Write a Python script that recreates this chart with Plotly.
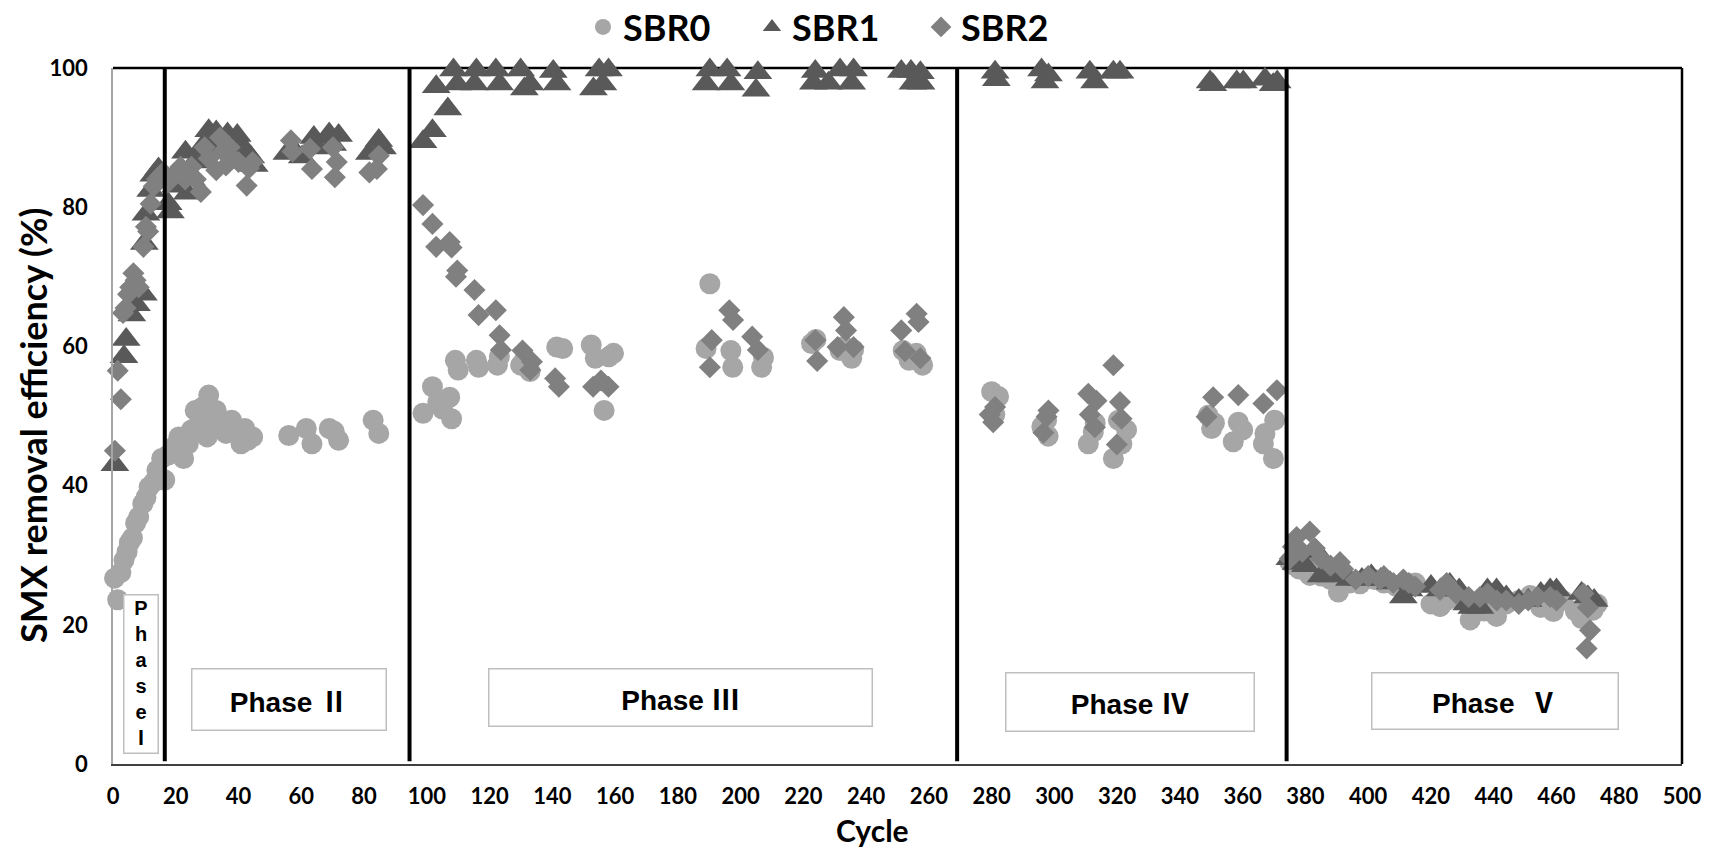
import plotly.graph_objects as go

# ---------------- data ----------------
sbr0_cycle = [0.5, 1.5, 2.5, 3.5, 4.5, 5.2, 6.2, 7.2, 8.2, 9.5, 10.5, 11.5, 13, 14, 15.5, 16.5,
              17.6, 19.5, 21, 22.5, 24, 25, 26.2, 27.5, 28.6, 30, 30.5, 31.5, 32.9, 34, 34.7, 36, 37.8, 39, 40.8, 42, 43, 44.5,
              56, 61.6, 63.4, 68.9, 70.5, 71.9, 82.9, 84.7,
              98.8, 101.8, 103.5, 105, 107.3, 107.9, 109.1, 110, 115.8, 116.5, 122.5, 123.1, 129.9, 131, 132.9, 141.4, 143.3,
              152.4, 153.7, 156.5, 158, 159.5, 189, 190.2, 196.9, 197.5, 206.7, 207.3, 222.6, 224, 231.7, 233, 235.4, 236,
              251.8, 253.7, 256, 258,
              280, 282.2, 281, 296, 297.5, 298, 310.8, 312.4, 313, 318.8, 320.4, 321.5, 323, 349, 350.1, 351, 357, 358.6, 360,
              366.6, 367.1, 369.8, 370.2,
              375, 376.1, 378, 381.4, 383, 385, 388, 390.5, 394, 397.4, 402, 405, 409, 412, 415, 420, 422.9, 425, 428, 432.5,
              435, 437, 440.9, 444, 448, 451.6, 455, 459, 462, 466, 468, 471.7, 473]
sbr0_value = [26.7, 23.6, 27.5, 29.3, 30.5, 31.8, 32.5, 34.6, 35.5, 37.4, 38.3, 39.8, 40.5, 42.2, 43.9, 40.8,
              44.4, 45.6, 47, 43.9, 46, 48, 50.8, 49, 51.3, 47, 53, 49.5, 50.8, 48.5, 48.9, 47.5, 49.4, 47.8, 46, 48.2, 46.5, 47,
              47.2, 48.2, 46, 48.2, 47.8, 46.5, 49.4, 47.5,
              50.4, 54.2, 52, 51, 52.7, 49.6, 58, 56.6, 58, 57, 57.3, 58.5, 57.3, 58, 56.4, 59.9, 59.7,
              60.2, 58.3, 50.8, 58.5, 59, 59.7, 69, 59.4, 57, 57, 58.4, 60.4, 61, 59.4, 60, 58.3, 59.5,
              59.4, 58, 59, 57.3,
              53.5, 52.8, 50.2, 48.5, 49.4, 47.1, 46, 47.7, 49, 43.9, 49.4, 46, 48, 50.1, 48.2, 49, 46.3, 49.1, 48,
              46, 47.5, 43.9, 49.4,
              29, 28.6, 28, 27.1, 29, 27, 26.5, 24.7, 26, 25.9, 26.5, 26, 25.5, 25.5, 26, 23, 22.6, 23.5, 24, 20.7,
              22, 22, 21.2, 23, 23.5, 24.2, 22.5, 21.9, 23.5, 22, 20.9, 22.1, 23]

sbr1_cycle = [0.6, 3.5, 4.2, 6, 7.5, 9.7, 10, 10.5, 12, 13, 14.5, 16,
              17.6, 18.3, 20, 22, 23.1, 23.7, 25, 26, 27.5, 29, 30.5, 31.5, 32.9, 34, 35, 36.5, 38, 39.6, 41, 42.5, 43.9, 45,
              55.4, 58, 60.3, 64, 65, 68.9, 70, 71.9, 81.7, 84.7, 85.9,
              98.8, 101.8, 103, 106.7, 108.5, 109.7, 115.2, 115.8, 122, 123.2, 129.9, 131.1, 132.9, 140.3, 141.5, 153.1,
              154.9, 156.1, 157.9, 189, 190.2, 195.7, 196.9, 204.9, 205.5, 223.2, 223.8, 228, 231.7, 235.4, 236, 251.2,
              254.3, 254.9, 257.3, 257.5,
              281.1, 281.5, 295.9, 297, 298.1, 311.3, 312.8, 318.8, 320.9, 349.6, 350.5, 358.1, 360.2, 367.1, 369.7, 371,
              375, 377, 380, 383.6, 385, 388, 391, 394, 398, 401, 404, 407, 411.2, 413, 420, 423, 426, 429, 431.4, 433,
              435.6, 438, 440.9, 444, 448, 451, 455, 458, 460, 468, 470, 472]
sbr1_value = [43, 58.5, 61, 64.5, 66, 67.5, 74.8, 79, 82.4, 84.6, 85.5, 84,
              80.5, 79.3, 83, 84.5, 87.9, 82, 84, 86.5, 88, 89, 91, 89.5, 90.8, 89, 88.5, 90.5, 89, 90.3, 88.5, 88, 87.2, 86,
              87.7, 88, 87.2, 90, 88.5, 90.5, 89, 90.3, 87.7, 89.6, 88.5,
              89.4, 91, 97.3, 94.1, 99.7, 97.7, 97.7, 99.7, 99.7, 97.7, 99.7, 97, 97.7, 99.5, 97.7, 97,
              99.7, 97.7, 99.7, 97.7, 99.7, 99.7, 97.7, 96.8, 99.3, 97.8, 99.5, 97.8, 99.7, 97.8, 99.7, 99.5,
              99.5, 97.8, 99.3, 97.8,
              99.4, 98.3, 99.7, 98, 99, 99.4, 98, 99.4, 99.4, 98, 97.6, 98, 98, 98.4, 97.6, 98,
              29.5, 28.8, 28.5, 30.5, 27, 27, 27.4, 26.5, 26.5, 27, 26.5, 26, 24, 25, 25.5, 25, 25.8, 25, 23, 22.5,
              22.5, 25, 25, 24, 23.5, 23.5, 24.5, 25, 25, 24.5, 24, 23.5]

sbr2_cycle = [0.6, 1.5, 2.5, 3.2, 4, 4.8, 5.5, 6.5, 7.2, 8.2, 9.7, 10.5, 11.2, 12, 13, 14, 15, 16,
              17.6, 19, 21.5, 23, 25, 26.4, 28, 29.2, 30.5, 32.9, 34.1, 35, 36, 37.2, 38.2, 40, 42.6, 43.3, 44.5,
              56.7, 57.2, 62.8, 63.4, 70.1, 70.7, 71.3, 81.7, 84.1, 84.7,
              98.8, 101.8, 103, 107.3, 107.9, 109.7, 109.3, 115.2, 116.5, 122, 123.2, 123.6, 130.5, 133.5, 133, 140.9,
              142.1, 153, 155.5, 157.9, 190.2, 190.8, 196.4, 197.6, 203.7, 205.5, 223.8, 224.4, 230.9, 232.9, 233.6, 236,
              251.2, 252.4, 256.1, 256.7, 257.3,
              279.4, 280.5, 281.1, 296.5, 297.5, 298.1, 310.8, 311.3, 312.9, 313.4, 318.8, 319.9, 320.9, 321.4, 348.5,
              350.6, 358.6, 366.6, 370.9,
              375, 376, 377.2, 379, 381.4, 383, 385, 388, 391, 392, 396, 400, 403.8, 405, 408, 411.2, 413, 415, 422.9,
              425, 428, 432, 435.6, 438, 441, 444, 448, 451, 454, 458, 460, 468.6, 470, 470.7, 469.6]
sbr2_value = [45, 56.5, 52.4, 64.8, 65.5, 67.5, 68.5, 70.5, 69.5, 68.5, 74.3, 77.2, 76.5, 80.5, 83, 84, 84.5, 85,
              83.6, 84.5, 85.8, 84, 85.8, 84, 82.2, 88.6, 87, 85.3, 90, 88, 86, 88.6, 87, 86.5, 83.1, 85.6, 86.5,
              89.6, 88, 88.4, 85.5, 88.6, 84.3, 86.5, 85, 85.5, 87.4,
              80.3, 77.6, 74.3, 75, 74.2, 70.9, 70, 68.1, 64.5, 65.2, 61.6, 59.5, 59.4, 57.8, 56.6, 55.4,
              54.2, 54.2, 55.1, 54.2, 57, 60.9, 65.2, 63.8, 61.4, 59.5, 60.9, 57.9, 59.9, 64.2, 62.3, 59.9,
              62.3, 59.3, 64.7, 63.5, 58.3,
              50.2, 49.1, 51.3, 47.6, 49.9, 50.8, 53.2, 50.2, 48.4, 52.2, 57.3, 45.9, 52, 49.6, 49.9,
              52.7, 53, 51.8, 53.7,
              29.5, 31.2, 32.6, 30.5, 33.4, 31, 29.5, 28.5, 29, 28, 26.5, 27, 26.5, 27, 26, 26.5, 26, 25.5, 25,
              26, 24.5, 24, 24, 24.5, 23.5, 23.5, 23, 23.5, 24, 24, 23.5, 24.5, 22.5, 19.2, 16.6]

phase_bounds = [16.5, 94.5, 269, 374]
phase_words = ["P<br>h<br>a<br>s<br>e<br>", "Phase ", "Phase ", "Phase ", "Phase  "]
phase_numerals = ["Ⅰ", "Ⅱ", "Ⅲ", "Ⅳ", "Ⅴ"]
x_ticks = list(range(0, 501, 20))
y_ticks = list(range(0, 101, 20))

# ---------------- figure ----------------
NUM_FONT = "Lato, 'Open Sans', sans-serif"
ARIAL = "'Liberation Sans', Arial, sans-serif"
CJK = "'Noto Sans CJK SC'"

W, H = 1709, 851
PL, PR, PT, PB = 113, 27, 68, 87
pw, ph = W - PL - PR, H - PT - PB

fig = go.Figure()
fig.add_trace(go.Scatter(x=sbr0_cycle, y=sbr0_value, mode="markers", name="<b>SBR0</b>",
                         marker=dict(symbol="circle", size=21, color="#A6A6A6"), cliponaxis=False))
fig.add_trace(go.Scatter(x=sbr1_cycle, y=sbr1_value, mode="markers", name="<b>SBR1</b>",
                         marker=dict(symbol="triangle-up", size=25, color="#595959"), cliponaxis=False))
fig.add_trace(go.Scatter(x=sbr2_cycle, y=sbr2_value, mode="markers", name="<b>SBR2</b>",
                         marker=dict(symbol="diamond", size=17, color="#808080"), cliponaxis=False))

shapes = []
shapes.append(dict(type="line", xref="paper", yref="paper", x0=0, x1=1, y0=1, y1=1,
                   line=dict(color="black", width=2.5), layer="below"))
shapes.append(dict(type="line", xref="paper", yref="paper", x0=1, x1=1, y0=0, y1=1,
                   line=dict(color="black", width=2.5), layer="below"))
for b in phase_bounds:
    shapes.append(dict(type="line", xref="x", yref="y", x0=b, x1=b, y0=0.4, y1=100,
                       line=dict(color="black", width=4), layer="above"))

box_x = [8.8, 56.1, 181, 324, 440.4]
box_y = [13.0, 9.2, 9.5, 8.9, 9.0]
box_w = [33, 193, 382, 247, 245]
box_h = [157, 60, 56, 57, 55]
box_fs = [20, 28, 28, 28, 28]
annotations = []
for word, num, bx, by, bw, bh, fs in zip(phase_words, phase_numerals, box_x, box_y, box_w, box_h, box_fs):
    txt = f"<b>{word}<span style=\"font-family:{CJK}\">{num}</span></b>"
    annotations.append(dict(x=bx, y=by, xref="x", yref="y", text=txt, showarrow=False,
                            width=bw, height=bh, borderpad=0, bordercolor="#BFBFBF", borderwidth=1.5,
                            bgcolor="white", align="center", valign="middle",
                            font=dict(family=ARIAL, size=fs, color="black")))
annotations.append(dict(xref="paper", yref="paper", x=(872 - PL) / pw, y=1 - (830 - PT) / ph,
                        text="<b>Cycle</b>", showarrow=False, xanchor="center", yanchor="middle",
                        font=dict(family=NUM_FONT, size=30, color="black")))
annotations.append(dict(xref="paper", yref="paper", x=(33 - PL) / pw, y=1 - (426 - PT) / ph,
                        text="<b>SMX removal efficiency (%)</b>", textangle=-90, showarrow=False,
                        xanchor="center", yanchor="middle",
                        font=dict(family=NUM_FONT, size=36, color="black")))

fig.update_layout(
    width=W, height=H,
    margin=dict(l=PL, r=PR, t=PT, b=PB, autoexpand=False),
    paper_bgcolor="white", plot_bgcolor="white",
    shapes=shapes, annotations=annotations,
    showlegend=True,
    legend=dict(orientation="h", xref="container", yref="container", x=583 / W, y=1 - 27 / H,
                xanchor="left", yanchor="middle", font=dict(family=NUM_FONT, size=36, color="black"),
                itemsizing="trace", bgcolor="rgba(0,0,0,0)", entrywidth=124, entrywidthmode="pixels"),
    xaxis=dict(range=[0, 500], tickvals=x_ticks, ticktext=[str(t) for t in x_ticks],
               showgrid=False, zeroline=False, showline=True, linecolor="#404040", linewidth=2,
               ticks="", ticklabelstandoff=12,
               tickfont=dict(family=NUM_FONT, size=22, color="black", weight="bold")),
    yaxis=dict(range=[0, 100], tickvals=y_ticks, ticktext=[str(t) for t in y_ticks],
               showgrid=False, zeroline=False, showline=True, linecolor="#A6A6A6", linewidth=1.5,
               ticks="", ticklabelstandoff=19,
               tickfont=dict(family=NUM_FONT, size=22, color="black", weight="bold")),
)

fig.write_html("out.html")
